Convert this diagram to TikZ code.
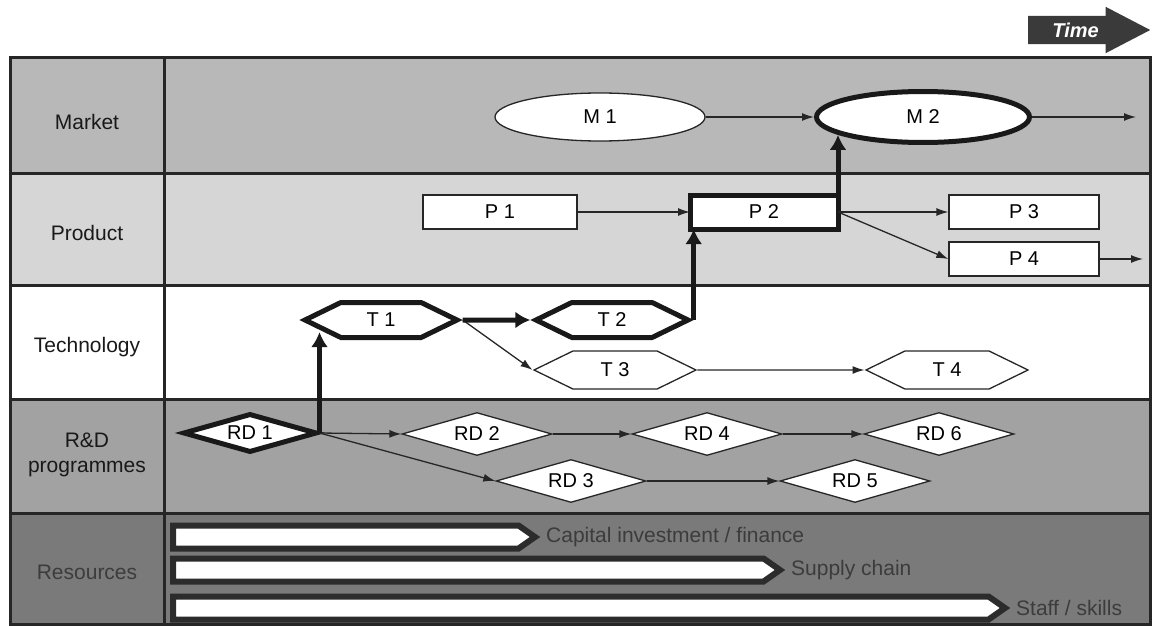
\documentclass[tikz,border=0pt]{standalone}
\usepackage{fontspec}
\setmainfont{Liberation Sans}
\usepackage{xcolor}
\usepackage{tikz}
\usetikzlibrary{shapes.geometric, shapes.symbols, shapes.arrows, arrows.meta, positioning, calc}
\definecolor{marketbg}{HTML}{B8B8B8}
\definecolor{productbg}{HTML}{D6D6D6}
\definecolor{rdbg}{HTML}{A2A2A2}
\definecolor{resbg}{HTML}{7A7A7A}
\definecolor{gridline}{HTML}{262626}
\definecolor{bardark}{HTML}{2C2C2C}
\definecolor{restext}{HTML}{3C3C3C}
\definecolor{timefill}{HTML}{3A3A3A}

\begin{document}
\begin{tikzpicture}[
    x=1pt, y=-1pt,
    rowlabel/.style={font=\fontsize{21}{25}\selectfont, text=black!90, align=center},
    boxtext/.style={font=\fontsize{20}{23}\selectfont, fill=white, draw=black!85, line width=1.3pt, inner sep=0pt},
    market/.style={boxtext, ellipse, minimum width=210pt, minimum height=48pt},
    product/.style={boxtext, rectangle, minimum width=150pt, minimum height=34pt},
    tech/.style={boxtext, signal, signal to=west and east, signal pointer angle=52, minimum width=162pt, minimum height=38pt},
    rdprog/.style={boxtext, diamond, aspect=3.4, minimum width=150pt, minimum height=43pt},
    crit/.style={line width=5pt, draw=black!90},
    link/.style={-{Latex[length=12pt,width=8pt]}, line width=1.3pt, black!85},
    critlink/.style={-{Latex[length=15pt,width=17pt]}, line width=5pt, black!90},
    resbar/.style={signal, signal to=east, signal pointer angle=70, draw=bardark, fill=white, line width=6pt, minimum height=23pt, inner sep=0pt, outer sep=0pt, anchor=west},
    restextnode/.style={font=\fontsize{21}{25}\selectfont, text=restext, inner sep=0pt}
  ]
    \useasboundingbox (0,0) rectangle (1152,626);

    \fill[marketbg] (10,58) rectangle (1150,173);
    \fill[productbg] (10,173) rectangle (1150,285);
    \fill[rdbg] (10,399) rectangle (1150,513);
    \fill[resbg] (10,513) rectangle (1150,624);
    \draw[gridline, line width=3pt] (10,58) rectangle (1150,624);
    \draw[gridline, line width=3pt] (164,58) -- (164,624);
    \foreach \y in {173,285,399,513}
      \draw[gridline, line width=3pt] (10,\y) -- (1150,\y);

    \node[single arrow, single arrow tip angle=55, single arrow head extend=9pt,
      fill=timefill, minimum height=122pt, text height=14pt, text depth=0pt,
      inner ysep=7pt, inner xsep=4pt, anchor=west, text=white,
      font=\fontsize{20}{24}\selectfont\bfseries\itshape] (time) at (1028,30) {Time};

    \node[rowlabel] (lmarket) at (87,122) {Market};
    \node[rowlabel] (lproduct) at (87,233) {Product};
    \node[rowlabel] (ltech) at (87,347) {Technology};
    \node[rowlabel] (lrd) at (87,455) {R\&D\\programmes};
    \node[rowlabel, text=restext] (lres) at (87,572) {Resources};

    \node[market] (M1) at (600,117) {M 1};
    \node[market, crit, minimum width=213pt, minimum height=51pt] (M2) at (923,117) {M 2};
    \coordinate (mout) at (1136,117);

    \node[product, minimum width=154pt] (P1) at (500,212) {P 1};
    \node[product, crit, minimum width=148pt, outer sep=0pt] (P2) at (764,212) {P 2};
    \node[product] (P3) at (1024,212) {P 3};
    \node[product] (P4) at (1024,259) {P 4};
    \coordinate (pout) at (1143,259);

    \node[tech, crit, minimum width=152pt, minimum height=35pt] (T1) at (381,320) {T 1};
    \node[tech, crit, minimum width=152pt, minimum height=35pt] (T2) at (612,320) {T 2};
    \node[tech] (T3) at (615,370) {T 3};
    \node[tech] (T4) at (947,370) {T 4};

    \node[rdprog, crit, minimum width=134pt, minimum height=39pt] (RD1) at (250,433) {RD 1};
    \node[rdprog] (RD2) at (477,434) {RD 2};
    \node[rdprog] (RD4) at (707,434) {RD 4};
    \node[rdprog] (RD6) at (939,434) {RD 6};
    \node[rdprog] (RD3) at (571,481) {RD 3};
    \node[rdprog] (RD5) at (855,481) {RD 5};

    \node[resbar, minimum width=362pt] (capital) at (173,537) {};
    \node[resbar, minimum width=607pt] (supply) at (173,570) {};
    \node[resbar, minimum width=832pt] (staff) at (173,608) {};
    \node[restextnode, right=11pt of capital] (capitaltext) {Capital investment / finance};
    \node[restextnode, right=11pt of supply] (supplytext) {Supply chain};
    \node[restextnode, right=11pt of staff] (stafftext) {Staff / skills};

    \draw[link] (M1) -- (M2);
    \draw[link] (M2) -- (mout);
    \draw[link] (P1) -- (P2);
    \draw[link] (P2) -- (P3);
    \draw[link] (P2.east) -- (P4.west);
    \draw[link] (P4) -- (pout);
    \draw[link] (T1.east) -- (T3.west);
    \draw[link] (T3) -- (T4);
    \draw[link] (RD1.east) -- (RD2.west);
    \draw[link] (RD1.east) -- (RD3.west);
    \draw[link] (RD2) -- (RD4);
    \draw[link] (RD4) -- (RD6);
    \draw[link] (RD3) -- (RD5);

    \draw[critlink] (RD1.east) -- (RD1.east |- T1.192);
    \draw[critlink] (T1) -- (T2);
    \draw[critlink] (T2.east) -- (T2.east |- P2.south);
    \draw[critlink] (P2.north east) -- (P2.north east |- M2.192);
\end{tikzpicture}
\end{document}
